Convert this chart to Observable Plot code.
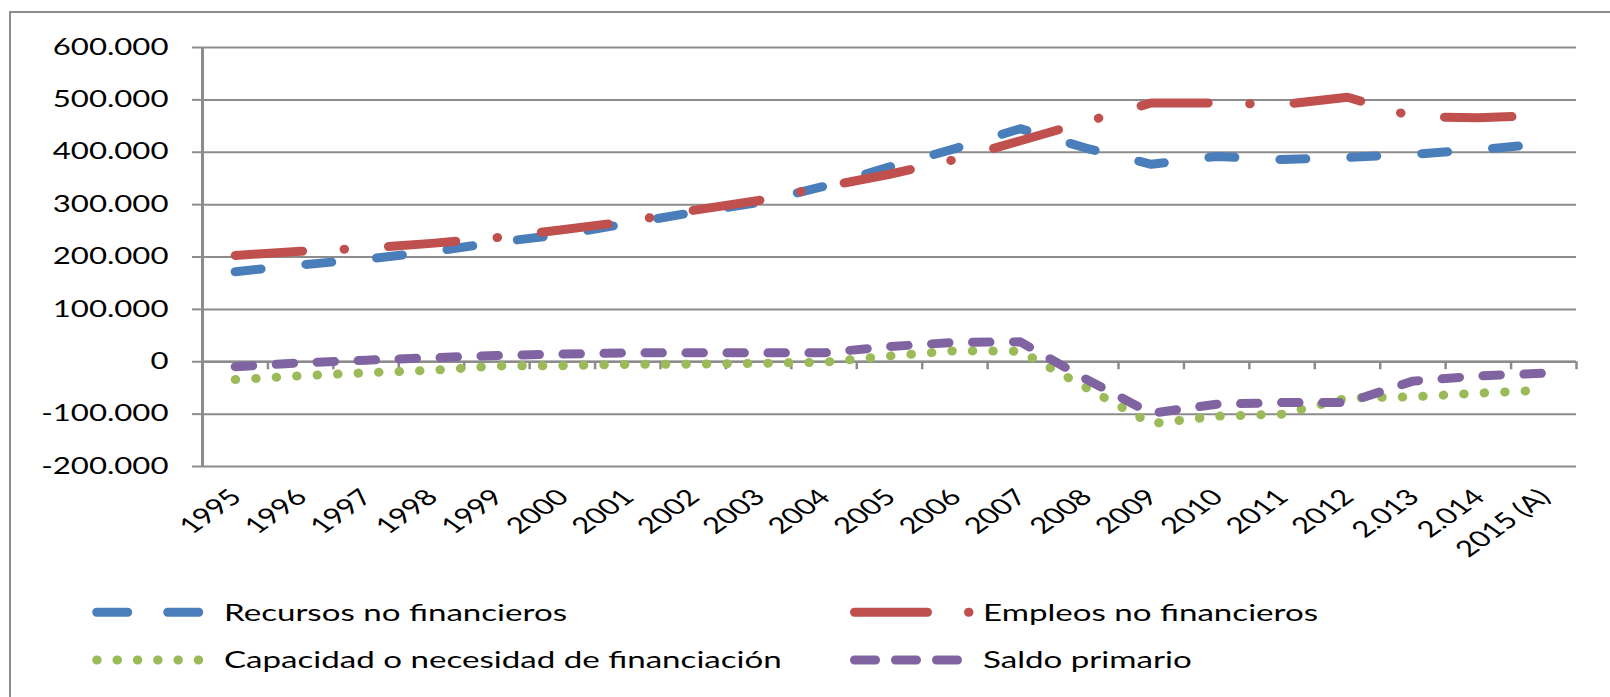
<!DOCTYPE html>
<html><head><meta charset="utf-8">
<script src="https://cdn.jsdelivr.net/npm/d3@7"></script>
<script src="https://cdn.jsdelivr.net/npm/@observablehq/plot@0.6"></script>
<style>
html,body{margin:0;padding:0;background:#fff;}
#wrap{position:relative;width:1610px;height:697px;overflow:hidden;font-family:Lato,sans-serif;background:#fff;}
#frame{position:absolute;left:9px;top:11px;width:1700px;height:800px;border-left:2px solid #8c8c8c;border-top:2px solid #8c8c8c;pointer-events:none;}
#chart{position:absolute;left:0;top:0;}
#legend{position:absolute;left:0;top:580px;}
</style></head><body>
<div id="wrap"><div id="chart"></div><svg id="legend" width="1610" height="117"></svg><div id="frame"></div></div>
<script>
// ---- data ----
const categories = ["1995","1996","1997","1998","1999","2000","2001","2002","2003","2004","2005","2006","2007","2008","2009","2010","2011","2012","2.013","2.014","2015 (A)"];
const recursos  = [172000,185000,196000,210000,228000,243000,264000,285000,304000,335000,372000,407000,445000,408000,377000,392000,386000,390000,396000,405000,416000];
const empleos   = [203000,211000,217000,226000,237000,252000,268000,289000,308000,334000,358000,386000,422000,458000,494000,494000,491000,505000,468000,466000,470000];
const capacidad = [-34000,-27000,-21000,-16500,-8000,-7500,-5000,-4500,-3000,-1000,11000,21000,20000,-49000,-118000,-104000,-100000,-69000,-67000,-60000,-54000];
const saldo     = [-9500,-2000,3000,7600,12000,14600,17000,17000,17000,17000,29000,37000,38000,-33000,-98500,-81000,-78000,-78000,-37000,-27000,-22000];
const seriesNames = ["Recursos no financieros","Empleos no financieros","Capacidad o necesidad de financiación","Saldo primario"];
const seriesColors = ["#4a7ebb","#c0504d","#9bbb59","#8064a2"];
const yTicks = [-200000,-100000,0,100000,200000,300000,400000,500000,600000];
const yDomain = [-200000, 600000];

const grid = "#8c8c8c";
const fmt = d3.formatLocale({decimal: ",", thousands: ".", grouping: [3], currency: ["", ""], minus: "-"}).format(",.0f");
const n = categories.length;
const bounds = d3.range(n + 1).map(i => i - 0.5);
const mk = vals => vals.map((v, i) => ({i, v}));
const line = (vals, color, dash) => Plot.line(mk(vals), {x: "i", y: "v", stroke: color, strokeWidth: 9, strokeDasharray: dash, strokeLinecap: "round", strokeLinejoin: "round"});

// ---- legend (drawn first to measure text stretch) ----
const leg = d3.select("#legend");
const legFont = 23.7;
const items = [
  {name: seriesNames[0], color: seriesColors[0], x1: 96.7, x2: 199, y: 32.3, dash: "31,40", tx: 224, ty: 40.7},
  {name: seriesNames[1], color: seriesColors[1], x1: 854.5, x2: 969.5, y: 32.3, dash: "73,41,0.5,200", tx: 983, ty: 40.7},
  {name: seriesNames[2], color: seriesColors[2], x1: 96.7, x2: 199, y: 80, dash: "0.5,19.8", tx: 224, ty: 88.4},
  {name: seriesNames[3], color: seriesColors[3], x1: 854.5, x2: 958, y: 80, dash: "21,20", tx: 983, ty: 88.4}
];
for (const it of items) {
  leg.append("line").attr("x1", it.x1).attr("x2", it.x2).attr("y1", it.y).attr("y2", it.y)
    .attr("stroke", it.color).attr("stroke-width", 9).attr("stroke-linecap", "round").attr("stroke-dasharray", it.dash);
}
const legTexts = items.map(it => leg.append("text").attr("x", 0).attr("y", 0)
  .attr("font-family", "Lato").attr("font-size", legFont).attr("fill", "black").text(it.name));
const k = 343 / legTexts[0].node().getComputedTextLength();
legTexts.forEach((t, j) => t.attr("transform", `translate(${items[j].tx},${items[j].ty}) scale(${k},1)`));

// ---- chart ----
const plot = Plot.plot({
  width: 1610, height: 580,
  marginLeft: 202, marginRight: 34, marginTop: 47, marginBottom: 114,
  x: {type: "linear", domain: [-0.5, n - 0.5], axis: null},
  y: {domain: yDomain},
  style: {fontFamily: "Lato", fontSize: "22px", color: "black", background: "white", overflow: "visible"},
  marks: [
    Plot.gridY(yTicks, {stroke: grid, strokeOpacity: 1, strokeWidth: 2}),
    Plot.axisY(yTicks, {tickFormat: fmt, tickSize: 10, tickPadding: 24, stroke: grid, strokeWidth: 2, fontSize: 22.3, fill: "black", label: null}),
    Plot.ruleX([-0.5], {stroke: grid, strokeWidth: 3}),
    Plot.ruleY([0], {stroke: grid, strokeWidth: 2.5}),
    Plot.ruleX(bounds, {x: d => d, y1: 0, y2: 0, insetBottom: -8, stroke: grid, strokeWidth: 2.5}),
    line(recursos, seriesColors[0], "26,45"),
    line(empleos, seriesColors[1], "67.5,41.5,0.5,44"),
    line(capacidad, seriesColors[2], "0.5,20"),
    line(saldo, seriesColors[3], "17.5,23.5"),
    Plot.text(categories, {x: (d, i) => i, y: () => yDomain[0], text: d => d, rotate: -45, textAnchor: "end", dx: 1, dy: 27, fontSize: 22.3, fill: "black"})
  ]
});
document.getElementById("chart").appendChild(plot);

// stretch texts horizontally about their anchor (reference glyphs are wide)
plot.querySelectorAll("text").forEach(el => {
  const tr = el.getAttribute("transform") || "";
  if (/rotate\(/.test(tr)) {
    el.setAttribute("transform", tr.replace(/rotate\(/, `scale(${k},1) rotate(`));
  } else {
    const xa = el.getAttribute("x");
    if (xa != null && !isNaN(+xa)) el.setAttribute("x", (+xa) / k);
    el.setAttribute("transform", `${tr} scale(${k},1)`);
    if (xa != null && !isNaN(+xa) && tr === "") {
      el.setAttribute("transform", `translate(${+xa},0) scale(${k},1)`);
      el.setAttribute("x", 0);
    }
  }
});
</script>
</body></html>
